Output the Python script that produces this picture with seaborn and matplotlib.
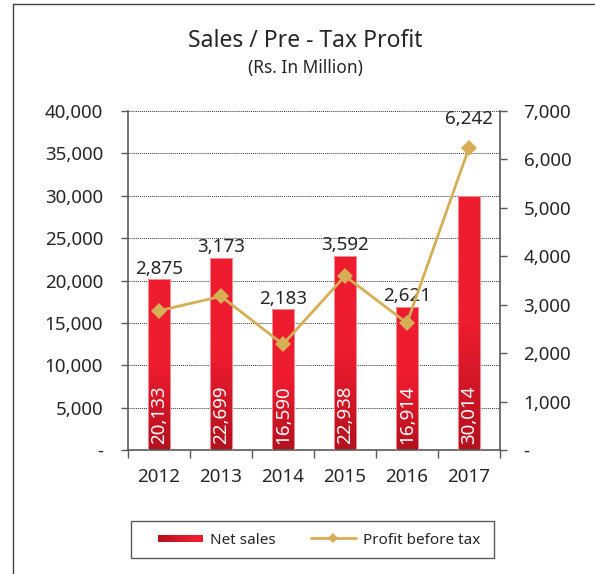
import numpy as np
import pandas as pd
import matplotlib
matplotlib.use("Agg")
import matplotlib.pyplot as plt
import seaborn as sns
from matplotlib.ticker import FuncFormatter, FixedLocator
from matplotlib.lines import Line2D
from matplotlib.patches import Rectangle
from matplotlib.legend_handler import HandlerBase
from matplotlib.colors import LinearSegmentedColormap

years = ["2012", "2013", "2014", "2015", "2016", "2017"]
net_sales = [20133, 22699, 16590, 22938, 16914, 30014]
profit = [2875, 3173, 2183, 3592, 2621, 6242]
left_ticks = [0, 5000, 10000, 15000, 20000, 25000, 30000, 35000, 40000]
right_ticks = [0, 1000, 2000, 3000, 4000, 5000, 6000, 7000]

sns.set_theme(style="white")
plt.rcParams['font.family'] = ['Noto Sans', 'DejaVu Sans']

TXT = "#262626"
AX = "#595959"
GOLD = "#D6AE55"
RED_TOP = "#EE1C2F"
RED_BOT = "#B3111E"

fig = plt.figure(figsize=(5.95, 5.74), dpi=100)
ax = fig.add_axes([128/595, 1-450/574, (500-128)/595, (450-111)/574])

df = pd.DataFrame({"year": years, "sales": net_sales, "profit": profit})
sns.barplot(data=df, x="year", y="sales", ax=ax, color=RED_TOP, width=0.37,
            saturation=1, zorder=3)

ax.set_xlabel("")
ax.set_ylabel("")

# gradient fill for bars
cmap = LinearSegmentedColormap.from_list("r", [RED_BOT, RED_TOP, RED_TOP])
grad = np.linspace(0, 1, 256).reshape(-1, 1)
for p in ax.patches:
    x0, y0 = p.get_x(), p.get_y()
    w, h = p.get_width(), p.get_height()
    p.set_facecolor("none")
    p.set_edgecolor("#F4A0A8")
    p.set_linewidth(0.6)
    im = ax.imshow(grad, cmap=cmap, origin="lower", aspect="auto",
                   extent=[x0, x0 + w, y0, y0 + h], zorder=2.5)
    im.set_clip_path(p)
ax.set_xlim(-0.5, len(years) - 0.5)
ax.set_ylim(0, 40000)

# inside labels
for i, v in enumerate(net_sales):
    ax.annotate(f"{v:,}", (i, 0), xytext=(0, 4), textcoords="offset points",
                rotation=90, ha="center", va="bottom", color="white",
                fontsize=13.5, zorder=5)

fmt = FuncFormatter(lambda v, _: "-" if v == 0 else f"{int(v):,}")
ax.yaxis.set_major_locator(FixedLocator(left_ticks))
ax.yaxis.set_major_formatter(fmt)
ax.grid(axis="y", linestyle=(0, (1, 1)), color="#333333", linewidth=0.7, zorder=0)
ax.grid(axis="x", visible=False)
ax.set_axisbelow(True)

for s in ["left", "bottom", "right"]:
    ax.spines[s].set_visible(True)
    ax.spines[s].set_color(AX)
    ax.spines[s].set_linewidth(1.2)
ax.spines["top"].set_visible(False)

ax.tick_params(axis="y", which="major", left=True, length=5, width=1, color=AX,
               labelsize=13.5, labelcolor=TXT, pad=13)
ax.tick_params(axis="x", which="major", bottom=False, labelsize=13.5,
               labelcolor=TXT, pad=7)
ax.xaxis.set_minor_locator(FixedLocator(np.arange(-0.5, len(years), 1.0)))
ax.tick_params(axis="x", which="minor", bottom=True, length=6, width=1, color=AX)

# secondary axis: profit
ax2 = ax.twinx()
xpos = np.arange(len(years))
sns.lineplot(x=xpos, y=profit, ax=ax2, color=GOLD, linewidth=2, marker="D",
             markersize=8.5, markeredgewidth=0, zorder=4, legend=False)
ax2.set_ylim(0, 7000)
ax2.yaxis.set_major_locator(FixedLocator(right_ticks))
ax2.yaxis.set_major_formatter(fmt)
ax2.grid(False)
for s in ["left", "top", "bottom", "right"]:
    ax2.spines[s].set_visible(False)
ax2.tick_params(axis="y", right=True, length=5, width=1, color=AX,
                labelsize=13.5, labelcolor=TXT, pad=12)
ax2.set_xlim(-0.5, len(years) - 0.5)

# profit labels
scale = 40000 / 7000
for i, (s, pr) in enumerate(zip(net_sales, profit)):
    if pr * scale > s:
        ax.annotate(f"{pr:,}", (i, pr * scale), xytext=(0, 14),
                    textcoords="offset points", ha="center", va="bottom",
                    fontsize=13.5, color=TXT, zorder=6, annotation_clip=False)
    else:
        ax.annotate(f"{pr:,}", (i, s), xytext=(0, 1),
                    textcoords="offset points", ha="center", va="bottom",
                    fontsize=13.5, color=TXT, zorder=6)

# titles
fig.text(305/595, 1-41/574, "Sales / Pre - Tax Profit", ha="center", va="center",
         fontsize=16.5, color=TXT)
fig.text(305/595, 1-68/574, "(Rs. In Million)", ha="center", va="center",
         fontsize=12.5, color=TXT)


# legend with gradient patch
class GradHandler(HandlerBase):
    def create_artists(self, legend, orig, xd, yd, width, height, fontsize, trans):
        arts = []
        n = 30
        cols = cmap(np.linspace(0, 0.6, n))
        for k in range(n):
            r = Rectangle((xd + width * k / n, yd + height * 0.15), width / n + 0.3,
                          height * 0.6, facecolor=cols[k], edgecolor="none",
                          transform=trans)
            arts.append(r)
        return arts


bar_handle = Rectangle((0, 0), 1, 1)
line_handle = Line2D([0], [0], color=GOLD, lw=2, marker="D", markersize=5,
                     markeredgewidth=0)
leg = fig.legend([bar_handle, line_handle], ["Net sales", "Profit before tax"],
                 handler_map={Rectangle: GradHandler()}, ncol=2,
                 loc="center", bbox_to_anchor=(319/595, 1-540/574),
                 frameon=False, fontsize=11,
                 handlelength=2.95, columnspacing=2.3, borderpad=0.0,
                 handletextpad=0.45)
for t in leg.get_texts():
    t.set_color(TXT)

fig.add_artist(Rectangle((131/595, 1-558/574), (494-131)/595, (558-521)/574,
                         transform=fig.transFigure, facecolor="none",
                         edgecolor=AX, linewidth=1))

# outer frame (left and top)
fig.add_artist(Line2D([13/595, 13/595], [0, 1-4/574], color="#404040", lw=1,
                      transform=fig.transFigure))
fig.add_artist(Line2D([13/595, 1], [1-4/574, 1-4/574], color="#404040", lw=1,
                      transform=fig.transFigure))

fig.savefig("out.png", dpi=100)
